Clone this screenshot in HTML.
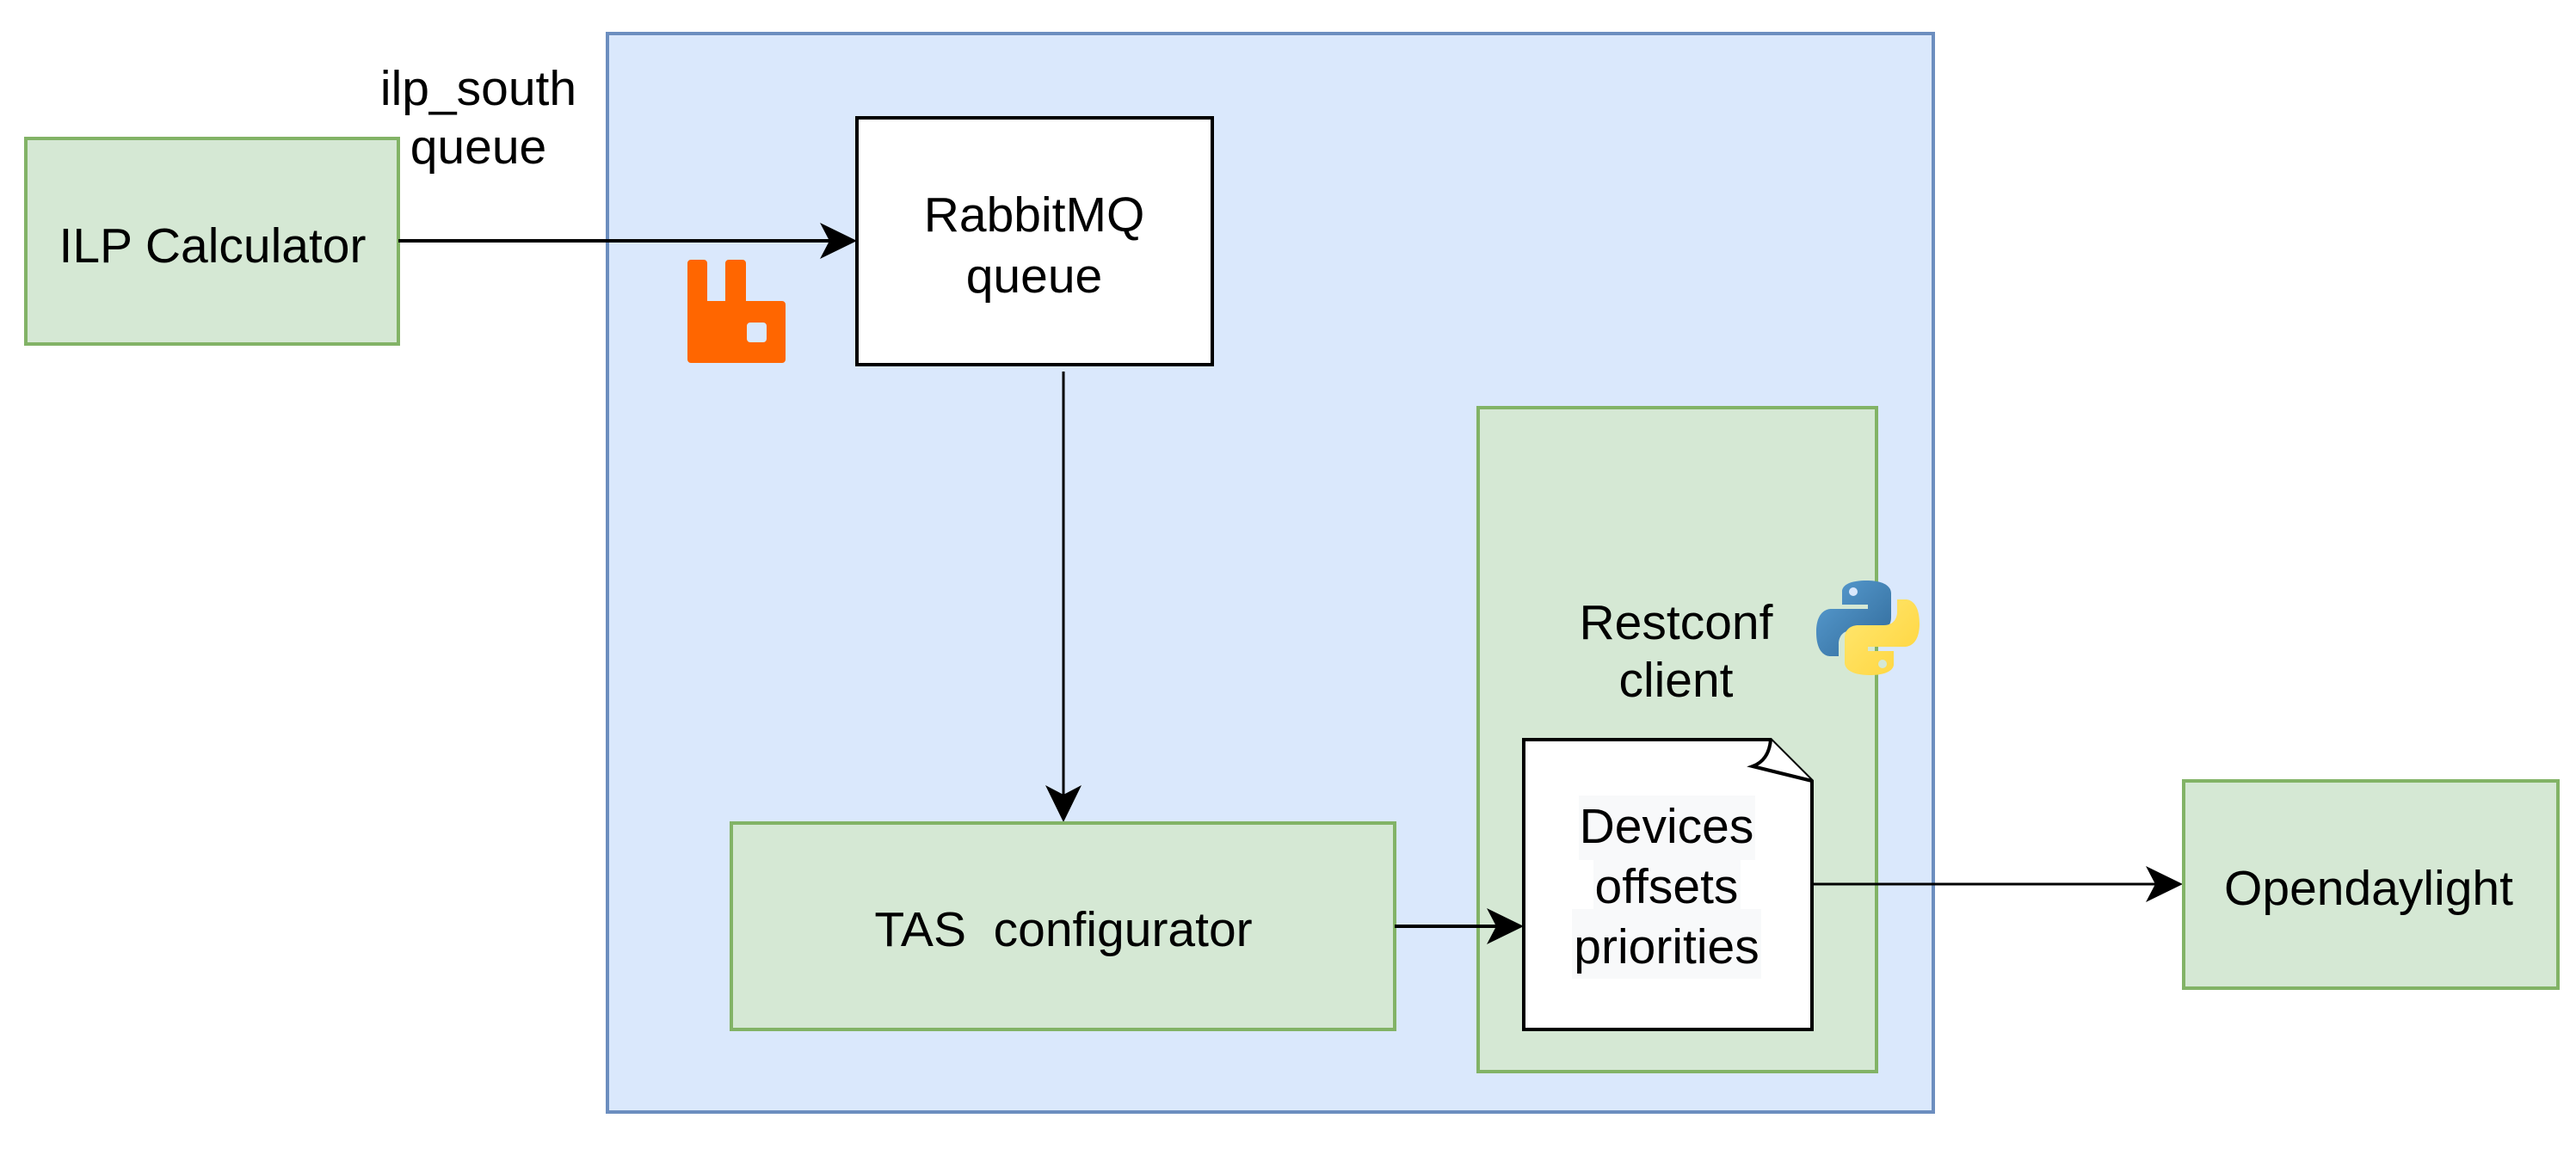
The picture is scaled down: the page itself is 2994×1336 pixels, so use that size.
<!DOCTYPE html>
<html><head><meta charset="utf-8"><style>
html,body{margin:0;padding:0;background:#fff;}
svg{display:block;}
text{font-family:"Liberation Sans",Arial,sans-serif;font-size:57px;fill:#000;text-anchor:middle;}
</style></head><body>
<svg width="2994" height="1336" viewBox="0 0 2994 1336" xmlns="http://www.w3.org/2000/svg">
<defs>
<linearGradient id="pb" x1="0" y1="0" x2="1" y2="1"><stop offset="0" stop-color="#5a9fd4"/><stop offset="1" stop-color="#306998"/></linearGradient>
<linearGradient id="py" x1="0" y1="0" x2="1" y2="1"><stop offset="0" stop-color="#ffe873"/><stop offset="1" stop-color="#ffd43b"/></linearGradient>
</defs>
<!-- container -->
<rect x="706" y="39" width="1541" height="1254" fill="#dae8fc" stroke="#6c8ebf" stroke-width="4"/>
<!-- ILP -->
<rect x="30" y="161" width="433" height="239" fill="#d5e8d4" stroke="#82b366" stroke-width="4"/>
<text x="247" y="305">ILP Calculator</text>
<text x="556" y="122">ilp_south</text>
<text x="556" y="190">queue</text>
<!-- rabbit box -->
<rect x="996" y="137" width="413" height="287" fill="#fff" stroke="#000" stroke-width="4"/>
<text x="1202" y="269">RabbitMQ</text>
<text x="1202" y="340">queue</text>
<!-- rabbit icon -->
<path d="M803 302 H818 a4 4 0 0 1 4 4 V350 H843 V306 a4 4 0 0 1 4 -4 H863 a4 4 0 0 1 4 4 V350 H909 a4 4 0 0 1 4 4 V418 a4 4 0 0 1 -4 4 H803 a4 4 0 0 1 -4 -4 V306 a4 4 0 0 1 4 -4 Z M872 375 a4 4 0 0 0 -4 4 V394 a4 4 0 0 0 4 4 H887 a4 4 0 0 0 4 -4 V379 a4 4 0 0 0 -4 -4 Z" fill="#ff6600" fill-rule="evenodd"/>
<!-- arrow ILP->rabbit -->
<line x1="463" y1="280" x2="975" y2="280" stroke="#000" stroke-width="4"/>
<path d="M996 280 L953 301 L964 280 L953 259 Z" fill="#000"/>
<!-- vertical -->
<line x1="1236" y1="432" x2="1236" y2="930" stroke="#000" stroke-width="3"/>
<path d="M1236 956 L1215 913 L1236 924 L1257 913 Z" fill="#000"/>
<!-- TAS -->
<rect x="850" y="957" width="771" height="240" fill="#d5e8d4" stroke="#82b366" stroke-width="4"/>
<text x="1236" y="1100">TAS&#160; configurator</text>
<!-- restconf -->
<rect x="1718" y="474" width="463" height="772" fill="#d5e8d4" stroke="#82b366" stroke-width="4"/>
<text x="1948" y="743">Restconf</text>
<text x="1948" y="810">client</text>
<!-- python icon -->
<g transform="translate(2111,673)">
<path d="M58 2 C28 2 30 15 30 15 V30 H60 V35 H18 C18 35 0 33 0 62 C0 91 16 90 16 90 H26 V76 C26 76 25 60 42 60 H72 C72 60 87 60 87 45 V17 C87 17 89 2 58 2 Z" fill="url(#pb)"/>
<circle cx="43" cy="15" r="5" fill="#dae8fc"/>
<path d="M62 112 C92 112 90 99 90 99 V84 H60 V79 H102 C102 79 120 81 120 52 C120 23 104 24 104 24 H94 V38 C94 38 95 54 78 54 H48 C48 54 33 54 33 69 V97 C33 97 31 112 62 112 Z" fill="url(#py)"/>
<circle cx="77" cy="99" r="5" fill="#d5e8d4"/>
</g>
<!-- document -->
<path d="M1771 860 H2058 L2106 908 V1197 H1771 Z" fill="#fff" stroke="#000" stroke-width="4"/>
<path d="M2058 860 Q2056 884 2037 891 L2106 908" fill="#fff" stroke="#000" stroke-width="4" stroke-linejoin="miter"/>
<rect x="1835" y="925" width="205" height="75" fill="#f8f9fa"/>
<rect x="1852" y="1000" width="171" height="57" fill="#f8f9fa"/>
<rect x="1827" y="1057" width="220" height="81" fill="#f8f9fa"/>
<text x="1937" y="980">Devices</text>
<text x="1937" y="1050">offsets</text>
<text x="1937" y="1120">priorities</text>
<!-- TAS->doc -->
<line x1="1621" y1="1077" x2="1750" y2="1077" stroke="#000" stroke-width="4"/>
<path d="M1771 1077 L1728 1098 L1739 1077 L1728 1056 Z" fill="#000"/>
<!-- doc->ODL -->
<line x1="2106" y1="1028" x2="2516" y2="1028" stroke="#000" stroke-width="3"/>
<path d="M2537 1028 L2494 1049 L2505 1028 L2494 1007 Z" fill="#000"/>
<!-- ODL -->
<rect x="2538" y="908" width="435" height="241" fill="#d5e8d4" stroke="#82b366" stroke-width="4"/>
<text x="2753" y="1052">Opendaylight</text>
</svg>
</body></html>
